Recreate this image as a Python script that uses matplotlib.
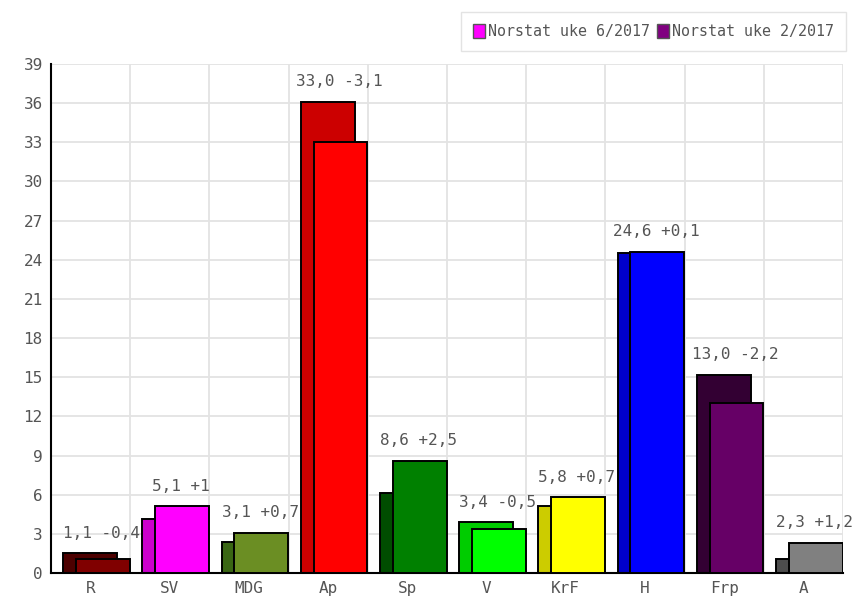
import matplotlib.pyplot as plt
from matplotlib.patches import Patch

parties = ["R", "SV", "MDG", "Ap", "Sp", "V", "KrF", "H", "Frp", "A"]
current = [1.1, 5.1, 3.1, 33.0, 8.6, 3.4, 5.8, 24.6, 13.0, 2.3]
previous = [1.5, 4.1, 2.4, 36.1, 6.1, 3.9, 5.1, 24.5, 15.2, 1.1]
cur_colors = ["#800000", "#ff00ff", "#6b8e23", "#ff0000", "#008000",
              "#00ff00", "#ffff00", "#0000ff", "#660066", "#808080"]
prev_colors = ["#4d0000", "#cc00cc", "#3a6614", "#cc0000", "#004d00",
               "#00cc00", "#cccc00", "#0000cc", "#330033", "#4d4d4d"]
yticks = list(range(0, 40, 3))

font = "DejaVu Sans Mono"
grey = "#555555"

fig = plt.figure(figsize=(8.56, 6.02), dpi=100)
ax = fig.add_axes([51 / 856, 1 - 573 / 602, 792 / 856, 509 / 602])

w = 0.68
for i in range(len(parties)):
    ax.bar(i + 0.155, previous[i], width=w, align="edge", color=prev_colors[i],
           edgecolor="black", linewidth=1.4, zorder=2)
    ax.bar(i + 0.315, current[i], width=w, align="edge", color=cur_colors[i],
           edgecolor="black", linewidth=1.4, zorder=3)
    diff = round(current[i] - previous[i], 1)
    txt = f"{current[i]:.1f} {diff:+g}".replace(".", ",")
    ax.annotate(txt, (i + 0.64, max(current[i], previous[i])),
                xytext=(0, 9), textcoords="offset points", ha="center",
                va="bottom", fontsize=11.5, family=font, color=grey, zorder=4)

ax.set_xlim(0, 10)
ax.set_ylim(0, 39)
ax.set_yticks(yticks)
ax.set_xticks([i + 0.5 for i in range(len(parties))])
ax.set_xticklabels(parties)
ax.set_xticks(range(1, 11), minor=True)
ax.tick_params(axis="both", which="both", length=0, labelsize=11.5,
               labelcolor=grey, pad=6)
for lab in ax.get_xticklabels() + ax.get_yticklabels():
    lab.set_family(font)
ax.grid(True, axis="y", which="major", color="#e3e3e3", linewidth=1.3, zorder=0)
ax.grid(True, axis="x", which="minor", color="#e3e3e3", linewidth=1.3, zorder=0)
ax.set_axisbelow(True)
for s in ["top", "right"]:
    ax.spines[s].set_visible(False)
ax.spines["left"].set_linewidth(1.5)
ax.spines["bottom"].set_linewidth(1.5)

handles = [Patch(facecolor="#ff00ff", edgecolor="#555555"),
           Patch(facecolor="#800080", edgecolor="#555555")]
leg = fig.legend(handles, ["Norstat uke 6/2017", "Norstat uke 2/2017"],
                 loc="upper right", bbox_to_anchor=(846 / 856, 1 - 12 / 602),
                 borderaxespad=0, ncol=2, handlelength=0.8, handleheight=1.0,
                 handletextpad=0.2, columnspacing=0.5, borderpad=0.8,
                 fancybox=False, edgecolor="#dddddd",
                 prop={"family": font, "size": 10.8})
for t in leg.get_texts():
    t.set_color(grey)

fig.savefig("out.png", dpi=100)
